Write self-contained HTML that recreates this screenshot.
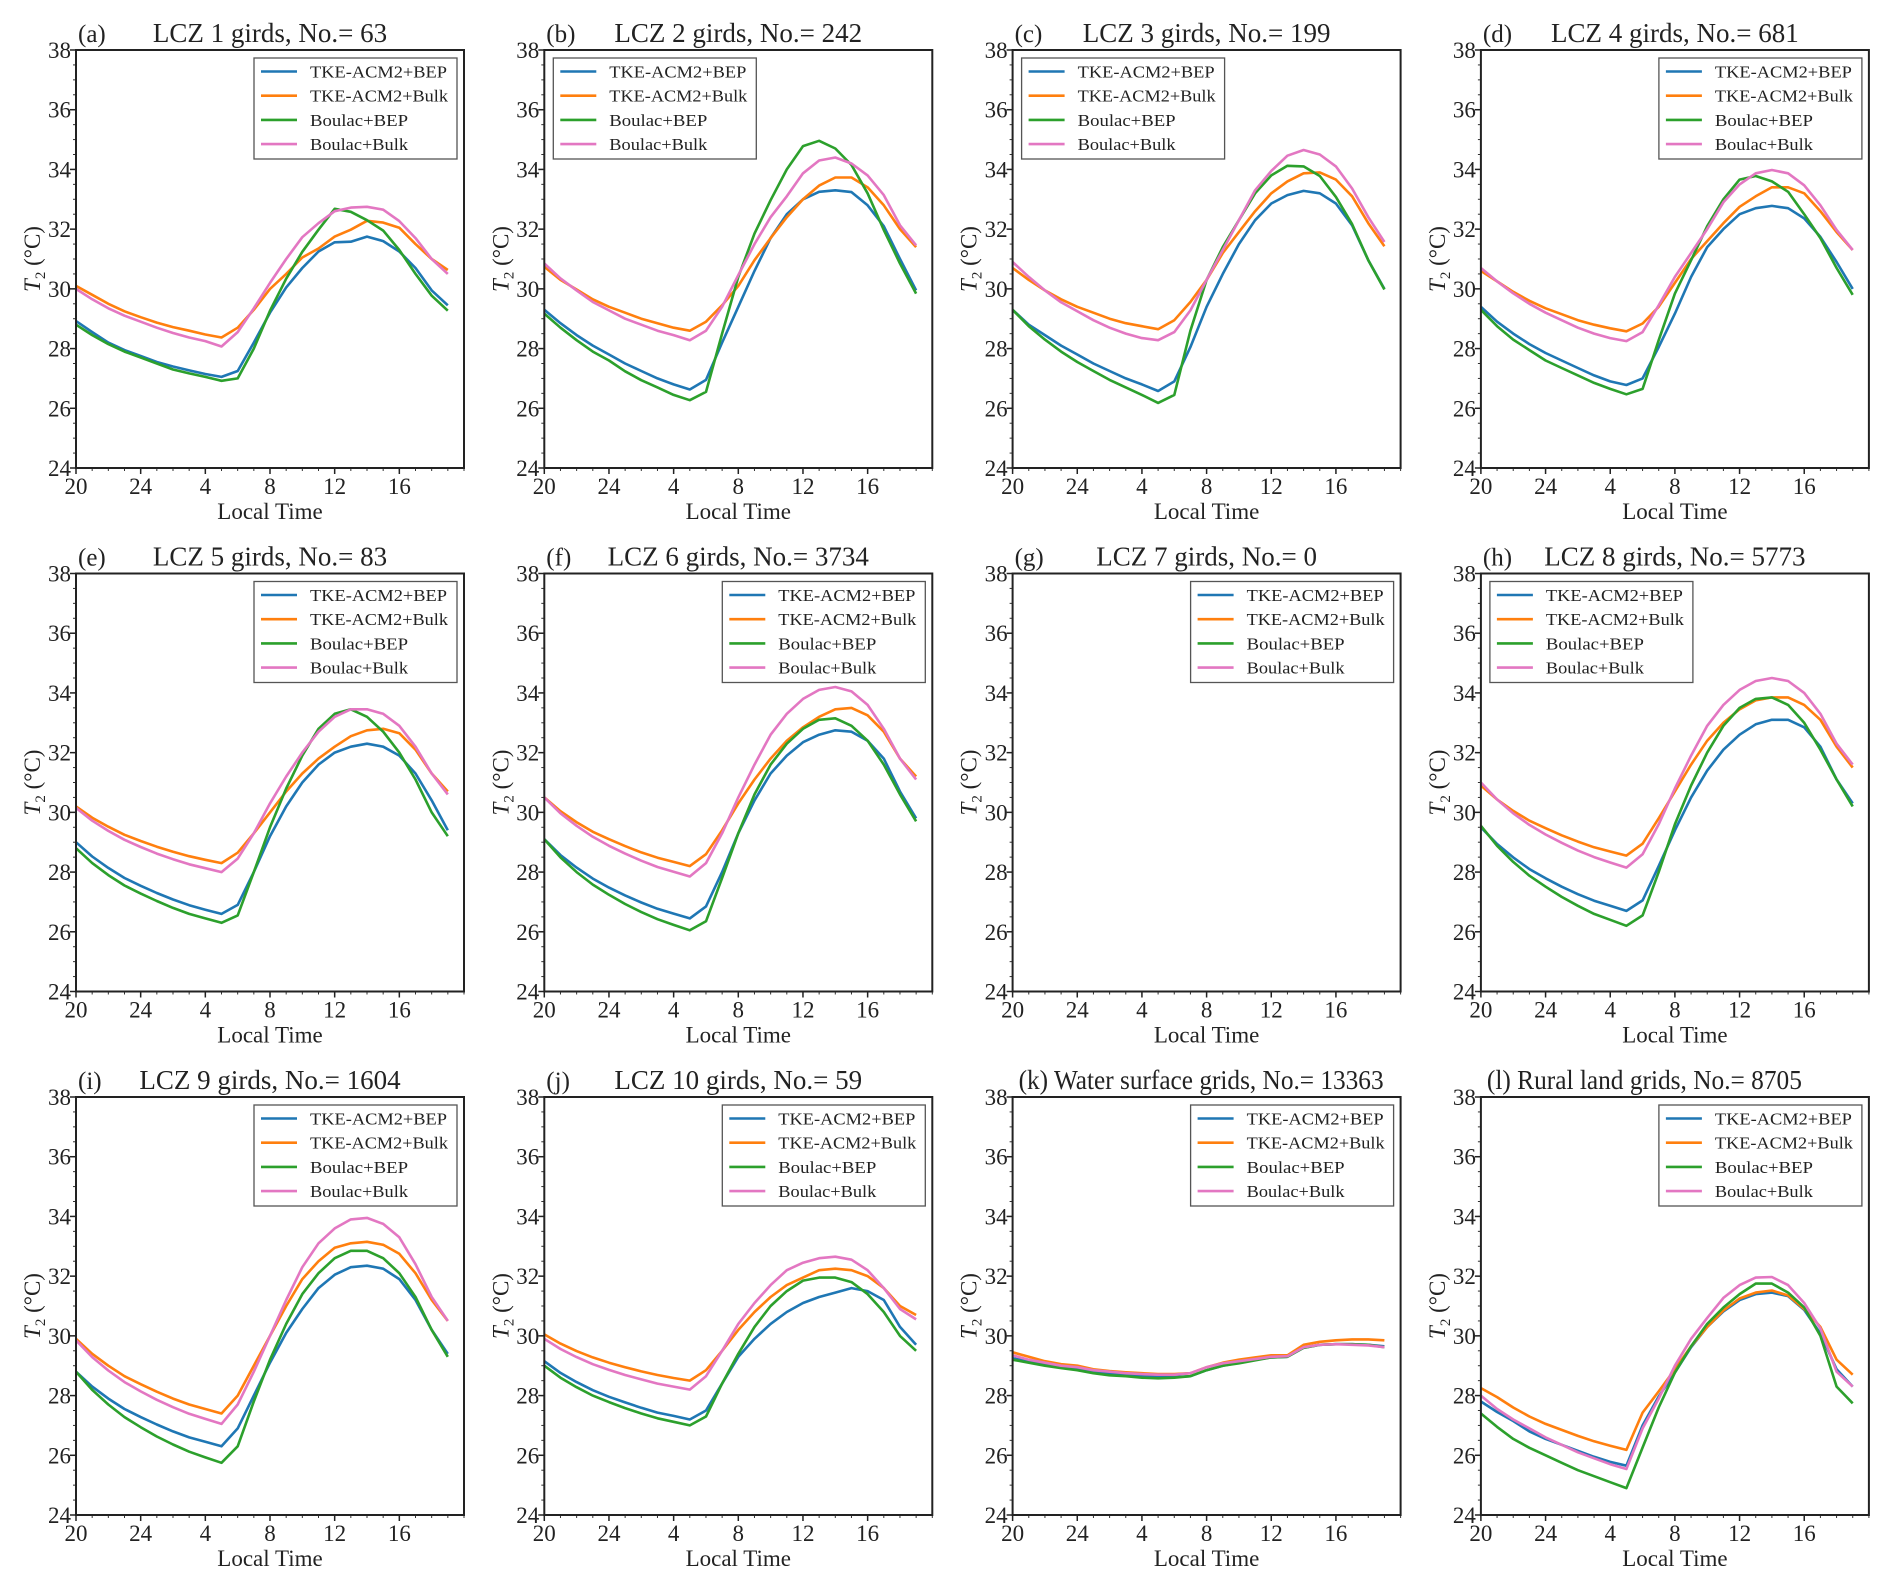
<!DOCTYPE html>
<html><head><meta charset="utf-8"><title>T2 diurnal cycles by LCZ</title>
<style>
html,body{margin:0;padding:0;background:#fff;}
svg{display:block;font-family:"Liberation Serif","DejaVu Serif",serif;}
</style></head>
<body>
<svg id="fig" width="1892" height="1584" viewBox="0 0 1892 1584" xmlns="http://www.w3.org/2000/svg"></svg>
<script>
// ---- data ----
const hours = [20,21,22,23,24,1,2,3,4,5,6,7,8,9,10,11,12,13,14,15,16,17,18,19];
const xTickIdx = [0,4,8,12,16,20];
const xTickLabels = ["20","24","4","8","12","16"];
const yTicks = [24,26,28,30,32,34,36,38];
const panelLetters = ["(a)","(b)","(c)","(d)","(e)","(f)","(g)","(h)","(i)","(j)","",""];
const panelTitles = ["LCZ 1 girds, No.= 63","LCZ 2 girds, No.= 242","LCZ 3 girds, No.= 199","LCZ 4 girds, No.= 681","LCZ 5 girds, No.= 83","LCZ 6 girds, No.= 3734","LCZ 7 girds, No.= 0","LCZ 8 girds, No.= 5773","LCZ 9 girds, No.= 1604","LCZ 10 girds, No.= 59","(k) Water surface grids, No.= 13363","(l) Rural land grids, No.= 8705"];
const legendOnLeft = [false,true,true,false,false,false,false,true,false,false,false,false];
const seriesNames = ["TKE-ACM2+BEP","TKE-ACM2+Bulk","Boulac+BEP","Boulac+Bulk"];

const tkeBep = [
[28.92,28.55,28.2,27.95,27.75,27.55,27.4,27.27,27.15,27.05,27.25,28.2,29.2,30.05,30.7,31.25,31.56,31.58,31.75,31.6,31.25,30.7,29.95,29.45],
[29.3,28.85,28.45,28.1,27.8,27.5,27.25,27.0,26.8,26.63,26.95,28.2,29.4,30.6,31.7,32.5,33.0,33.25,33.3,33.24,32.8,32.1,31.0,29.95],
[29.3,28.8,28.45,28.1,27.8,27.5,27.25,27.0,26.8,26.58,26.9,28.05,29.4,30.5,31.5,32.3,32.86,33.14,33.28,33.2,32.86,32.13,30.96,30.0],
[29.4,28.9,28.5,28.15,27.85,27.6,27.35,27.1,26.9,26.78,27.0,28.05,29.17,30.4,31.4,32.0,32.5,32.7,32.78,32.7,32.36,31.74,30.9,30.0],
[29.0,28.52,28.14,27.8,27.54,27.3,27.08,26.89,26.74,26.6,26.9,28.0,29.2,30.2,31.0,31.6,32.0,32.2,32.3,32.2,31.9,31.3,30.4,29.4],
[29.1,28.57,28.15,27.78,27.48,27.22,26.98,26.77,26.61,26.45,26.85,28.0,29.3,30.4,31.3,31.9,32.35,32.6,32.75,32.7,32.4,31.8,30.7,29.8],
[],
[29.5,28.94,28.49,28.1,27.79,27.51,27.26,27.04,26.87,26.7,27.05,28.2,29.4,30.5,31.4,32.1,32.6,32.95,33.1,33.1,32.85,32.2,31.1,30.3],
[28.8,28.3,27.9,27.55,27.28,27.03,26.8,26.6,26.45,26.3,26.9,28.0,29.1,30.1,30.9,31.6,32.05,32.3,32.35,32.25,31.9,31.2,30.2,29.4],
[29.15,28.76,28.45,28.18,27.96,27.77,27.59,27.43,27.32,27.2,27.5,28.4,29.3,29.9,30.4,30.8,31.1,31.3,31.45,31.6,31.5,31.2,30.3,29.7],
[29.25,29.15,29.05,28.95,28.9,28.8,28.75,28.7,28.65,28.62,28.62,28.65,28.85,29.0,29.1,29.2,29.28,29.3,29.6,29.7,29.72,29.72,29.7,29.65],
[27.8,27.45,27.15,26.8,26.55,26.35,26.15,25.95,25.78,25.65,27.0,27.97,28.77,29.62,30.3,30.82,31.2,31.4,31.45,31.33,30.87,30.08,28.88,28.3]
];
const tkeBulk = [
[30.1,29.8,29.5,29.25,29.05,28.87,28.72,28.6,28.47,28.37,28.7,29.3,30.0,30.5,31.05,31.35,31.75,31.98,32.28,32.22,32.05,31.5,31.0,30.63],
[30.74,30.3,29.98,29.65,29.4,29.2,29.0,28.85,28.7,28.6,28.9,29.45,30.1,30.96,31.7,32.4,33.0,33.46,33.73,33.73,33.4,32.8,32.0,31.4],
[30.7,30.3,29.95,29.65,29.4,29.2,29.0,28.85,28.75,28.65,28.95,29.56,30.3,31.2,31.9,32.6,33.2,33.6,33.87,33.9,33.66,33.1,32.2,31.43],
[30.6,30.25,29.9,29.6,29.35,29.15,28.95,28.8,28.68,28.58,28.84,29.4,30.2,31.0,31.6,32.2,32.75,33.1,33.4,33.4,33.2,32.6,31.9,31.3],
[30.2,29.82,29.52,29.25,29.04,28.85,28.68,28.53,28.41,28.3,28.65,29.3,30.0,30.7,31.3,31.8,32.2,32.55,32.75,32.8,32.65,32.1,31.3,30.7],
[30.5,30.04,29.67,29.35,29.1,28.87,28.66,28.48,28.34,28.2,28.6,29.4,30.3,31.1,31.8,32.4,32.85,33.2,33.45,33.5,33.25,32.7,31.8,31.2],
[],
[30.9,30.43,30.05,29.72,29.47,29.23,29.02,28.83,28.69,28.55,28.95,29.8,30.7,31.6,32.4,33.0,33.45,33.75,33.85,33.85,33.6,33.1,32.2,31.5],
[29.9,29.4,29.0,28.65,28.38,28.13,27.9,27.7,27.55,27.4,28.0,29.0,30.0,31.0,31.9,32.5,32.95,33.1,33.15,33.05,32.75,32.1,31.2,30.5],
[30.05,29.74,29.49,29.28,29.1,28.95,28.81,28.69,28.59,28.5,28.85,29.5,30.2,30.8,31.3,31.7,31.95,32.2,32.25,32.2,32.0,31.6,31.0,30.7],
[29.45,29.3,29.15,29.05,29.0,28.88,28.82,28.78,28.75,28.72,28.72,28.75,28.95,29.1,29.2,29.28,29.35,29.35,29.7,29.8,29.85,29.88,29.88,29.85],
[28.25,27.95,27.6,27.3,27.05,26.85,26.65,26.47,26.32,26.18,27.43,28.14,28.88,29.65,30.3,30.85,31.25,31.45,31.52,31.35,30.9,30.3,29.2,28.7]
];
const boulacBep = [
[28.8,28.45,28.15,27.9,27.7,27.5,27.3,27.17,27.05,26.92,27.0,28.0,29.27,30.34,31.24,31.98,32.68,32.58,32.3,31.95,31.3,30.5,29.77,29.27],
[29.17,28.7,28.28,27.9,27.6,27.24,26.94,26.7,26.45,26.27,26.55,28.5,30.4,31.85,32.97,34.0,34.78,34.96,34.7,34.15,33.2,31.97,30.85,29.84],
[29.3,28.75,28.3,27.9,27.55,27.25,26.95,26.7,26.45,26.18,26.45,28.6,30.3,31.4,32.3,33.2,33.8,34.12,34.1,33.78,33.08,32.17,30.96,29.98],
[29.3,28.75,28.3,27.95,27.6,27.35,27.1,26.85,26.65,26.47,26.65,28.28,29.84,30.96,32.1,33.0,33.66,33.78,33.6,33.25,32.5,31.7,30.7,29.8],
[28.8,28.3,27.9,27.55,27.28,27.03,26.8,26.6,26.45,26.3,26.55,28.0,29.5,30.8,31.9,32.8,33.3,33.45,33.2,32.7,32.0,31.1,30.0,29.2],
[29.1,28.49,28.0,27.58,27.24,26.93,26.66,26.42,26.23,26.05,26.35,27.8,29.3,30.6,31.6,32.3,32.8,33.1,33.15,32.9,32.4,31.6,30.6,29.7],
[],
[29.55,28.88,28.34,27.88,27.51,27.17,26.87,26.6,26.4,26.2,26.55,28.0,29.6,30.9,32.0,32.9,33.5,33.8,33.85,33.6,33.0,32.1,31.1,30.2],
[28.8,28.19,27.7,27.28,26.94,26.63,26.36,26.12,25.93,25.75,26.3,27.8,29.2,30.4,31.4,32.1,32.6,32.85,32.85,32.6,32.1,31.3,30.2,29.3],
[29.0,28.6,28.28,28.0,27.78,27.58,27.4,27.24,27.12,27.0,27.3,28.4,29.4,30.3,31.0,31.5,31.85,31.95,31.95,31.8,31.4,30.8,30.0,29.5],
[29.2,29.1,29.0,28.92,28.85,28.75,28.68,28.65,28.6,28.58,28.6,28.65,28.85,29.0,29.08,29.18,29.28,29.3,29.6,29.7,29.72,29.72,29.7,29.62],
[27.4,26.95,26.55,26.25,26.0,25.75,25.5,25.3,25.1,24.9,26.26,27.6,28.77,29.65,30.4,30.95,31.4,31.75,31.75,31.45,30.95,30.0,28.3,27.74]
];
const boulacBulk = [
[30.0,29.65,29.35,29.1,28.9,28.7,28.52,28.37,28.25,28.07,28.55,29.35,30.2,31.0,31.73,32.2,32.6,32.72,32.75,32.65,32.27,31.7,31.0,30.5],
[30.85,30.35,29.95,29.56,29.28,29.0,28.8,28.6,28.45,28.28,28.6,29.4,30.46,31.5,32.4,33.1,33.87,34.3,34.4,34.2,33.8,33.14,32.13,31.46],
[30.9,30.4,29.95,29.55,29.25,28.95,28.7,28.5,28.35,28.28,28.55,29.28,30.3,31.3,32.3,33.3,33.95,34.46,34.65,34.5,34.1,33.36,32.4,31.57],
[30.7,30.25,29.85,29.5,29.2,28.95,28.7,28.5,28.35,28.25,28.55,29.45,30.4,31.2,32.0,32.9,33.5,33.87,33.98,33.87,33.47,32.8,31.97,31.3],
[30.15,29.72,29.38,29.08,28.84,28.62,28.43,28.26,28.13,28.0,28.45,29.3,30.3,31.2,32.0,32.7,33.2,33.45,33.45,33.3,32.9,32.2,31.3,30.6],
[30.5,29.97,29.55,29.18,28.88,28.62,28.38,28.17,28.01,27.85,28.3,29.3,30.5,31.6,32.6,33.3,33.8,34.1,34.2,34.05,33.6,32.8,31.8,31.1],
[],
[31.0,30.43,29.97,29.58,29.26,28.98,28.72,28.5,28.32,28.15,28.6,29.6,30.8,31.9,32.9,33.6,34.1,34.4,34.5,34.4,34.0,33.3,32.3,31.6],
[29.85,29.29,28.84,28.45,28.14,27.86,27.61,27.39,27.22,27.05,27.7,28.8,30.0,31.2,32.3,33.1,33.6,33.9,33.95,33.75,33.3,32.4,31.3,30.5],
[29.9,29.56,29.29,29.05,28.86,28.69,28.54,28.4,28.3,28.2,28.65,29.5,30.4,31.1,31.7,32.2,32.45,32.6,32.65,32.55,32.2,31.6,30.9,30.55],
[29.35,29.2,29.1,29.0,28.95,28.85,28.8,28.75,28.72,28.7,28.7,28.75,28.95,29.08,29.15,29.22,29.3,29.32,29.62,29.7,29.72,29.7,29.68,29.62],
[28.0,27.55,27.2,26.9,26.6,26.35,26.1,25.9,25.7,25.54,26.9,27.9,29.0,29.9,30.6,31.27,31.7,31.95,31.97,31.7,31.1,30.25,28.8,28.3]
];

// ---- drawing ----
const NS = "http://www.w3.org/2000/svg";
const fig = document.getElementById("fig");
const colors = ["#1f77b4","#ff7f0e","#2ca02c","#e377c2"];
const allSeries = [tkeBep, tkeBulk, boulacBep, boulacBulk];
const seriesKeys = ["tke-acm2-bep","tke-acm2-bulk","boulac-bep","boulac-bulk"];
const PW = 388, PH = 418, X0 = 76, Y0 = 50, DX = 468.3, DY = 523.5;
const XMAX = 24, YMIN = 24, YMAX = 38;

function mk(tag, attrs, parent) {
  const el = document.createElementNS(NS, tag);
  for (const k in attrs) el.setAttribute(k, attrs[k]);
  (parent || fig).appendChild(el);
  return el;
}

for (let p = 0; p < 12; p++) {
  const r = Math.floor(p / 4), c = p % 4;
  const L = X0 + c * DX, T = Y0 + r * DY;
  const xs = i => L + (i / XMAX) * PW;
  const ys = v => T + (YMAX - v) / (YMAX - YMIN) * PH;
  const g = mk("g", {});
  
  

  for (let v = YMIN; v <= YMAX + 0.001; v += 0.5) {
    const t = mk("line", {x1: L - 3, x2: L, y1: ys(v), y2: ys(v), stroke: "#333", "stroke-width": 1}, g);
    
    
  }
  for (let i = 0; i <= 24; i++) {
    const t = mk("line", {x1: xs(i), x2: xs(i), y1: T + PH, y2: T + PH + 3, stroke: "#333", "stroke-width": 1}, g);
    
    
  }
  yTicks.forEach(v => {
    const t = mk("line", {x1: L - 6, x2: L, y1: ys(v), y2: ys(v), stroke: "#222", "stroke-width": 1.5}, g);
    
    
    const tx = mk("text", {x: L - 5, y: ys(v) + 8, "text-anchor": "end", "font-size": 23, fill: "#222"}, g);
    tx.textContent = String(v);
    
    
  });
  xTickIdx.forEach((i, k) => {
    const t = mk("line", {x1: xs(i), x2: xs(i), y1: T + PH, y2: T + PH + 6, stroke: "#222", "stroke-width": 1.5}, g);
    
    
    const tx = mk("text", {x: xs(i), y: T + PH + 26, "text-anchor": "middle", "font-size": 23, fill: "#222"}, g);
    tx.textContent = xTickLabels[k];
    
    
  });
  const xt = mk("text", {x: L + PW / 2, y: T + PH + 51, "text-anchor": "middle", "font-size": 23, fill: "#222"}, g);
  xt.textContent = "Local Time";
  
  
  const yt = mk("text", {transform: "translate(" + (L - 36) + "," + (T + PH / 2) + ") rotate(-90)", "text-anchor": "middle", "font-size": 23, fill: "#222"}, g);
  yt.innerHTML = '<tspan font-style="italic">T</tspan><tspan font-size="15" dy="5">2</tspan><tspan dy="-5"> (°C)</tspan>';
  
  

  if (panelLetters[p]) {
    const lt = mk("text", {x: L + 2, y: T - 8, "font-size": 25, fill: "#222"}, g);
    lt.textContent = panelLetters[p];
    
    
    const tt = mk("text", {x: L + PW / 2, y: T - 8, "text-anchor": "middle", "font-size": 27, fill: "#222"}, g);
    tt.textContent = panelTitles[p];
    
    
  } else {
    const tt = mk("text", {x: L + 6, y: T - 8, "font-size": 27, fill: "#222", textLength: p === 10 ? 365 : 315, lengthAdjust: "spacingAndGlyphs"}, g);
    tt.textContent = panelTitles[p];
    
    
  }

  allSeries.forEach((arr, s) => {
    const vals = arr[p];
    if (!vals || !vals.length) return;
    const pts = vals.map((v, i) => xs(i).toFixed(1) + "," + ys(v).toFixed(1)).join(" ");
    const pl = mk("polyline", {points: pts, fill: "none", stroke: colors[s], "stroke-width": 2.6, "stroke-linejoin": "round"}, g);
    
    
  });

  const fr = mk("rect", {x: L, y: T, width: PW, height: PH, fill: "none", stroke: "#222", "stroke-width": 2}, g);
  
  

  const LW = 203, LH = 101;
  const lx = legendOnLeft[p] ? L + 9 : L + PW - 7 - LW;
  const ly = T + 8;
  const lg = mk("g", {}, g);
  
  
  const lb = mk("rect", {x: lx, y: ly, width: LW, height: LH, fill: "#fff", stroke: "#555", "stroke-width": 1.3}, lg);
  
  
  const lens = [137, 138, 98, 98];
  seriesNames.forEach((nm, s) => {
    const yy = ly + 13.5 + s * 24.2;
    const ll = mk("line", {x1: lx + 7, x2: lx + 43, y1: yy, y2: yy, stroke: colors[s], "stroke-width": 2.6}, lg);
    
    
    const lt = mk("text", {x: lx + 56, y: yy + 6, "font-size": 17, fill: "#222", textLength: lens[s], lengthAdjust: "spacingAndGlyphs"}, lg);
    lt.textContent = nm;
    
    
  });
}
</script>
</body></html>
